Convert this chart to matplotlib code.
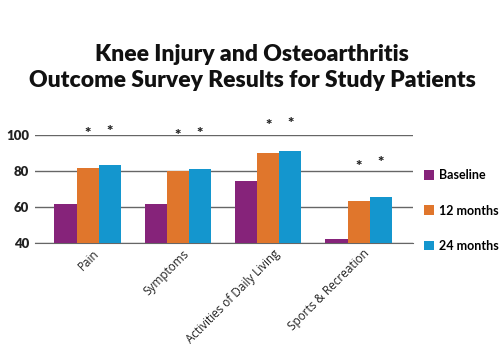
import matplotlib
matplotlib.use("Agg")
import matplotlib.pyplot as plt
import numpy as np

categories = ["Pain", "Symptoms", "Activities of Daily Living", "Sports & Recreation"]
series_names = ["Baseline", "12 months", "24 months"]
baseline = [61.5, 61.5, 74.4, 42.4]
months12 = [81.4, 80.0, 90.0, 63.4]
months24 = [83.3, 80.9, 91.2, 65.4]
star_12 = [101.0, 99.5, 105.5, 82.5]
star_24 = [102.0, 101.0, 106.3, 84.7]
colors = ["#86237A", "#E0762C", "#1496CE"]
yticks = [40, 60, 80, 100]

plt.rcParams['font.family'] = ['Lato', 'DejaVu Sans']

fig = plt.figure(figsize=(5.04, 3.6), dpi=100)
ax = fig.add_axes([0.069, 0.325, 0.75, 0.30])

x = np.arange(len(categories))
w = 0.245
for i, (vals, c, name) in enumerate(zip([baseline, months12, months24], colors, series_names)):
    ax.bar(x + (i - 1) * w, vals, w, color=c, label=name, zorder=3, bottom=0)

for xi, s12, s24 in zip(x, star_12, star_24):
    ax.text(xi, s12, "*", ha="center", va="center", fontsize=11, fontweight="heavy", color="#222222", zorder=4)
    ax.text(xi + w, s24, "*", ha="center", va="center", fontsize=11, fontweight="heavy", color="#222222", zorder=4)

ax.set_ylim(40, 100)
ax.set_xlim(-0.585, 3.6)
ax.set_yticks(yticks)
ax.set_yticklabels([str(t) for t in yticks], fontweight="heavy", fontsize=9.5, color="#222222")
ax.yaxis.grid(True, color="#666666", linewidth=1.0, zorder=0)
ax.tick_params(axis="y", length=0, pad=4)
ax.tick_params(axis="x", length=0, pad=3)
for s in ["top", "right", "left"]:
    ax.spines[s].set_visible(False)
ax.spines["bottom"].set_color("#666666")
ax.set_xticks(x + 0.05)
ax.set_xticklabels(categories, rotation=45, ha="right", rotation_mode="anchor", fontsize=8.5,
                   color="#222222", family=["Open Sans", "DejaVu Sans"])

ax.legend(loc="center left", bbox_to_anchor=(1.0, 0.30), frameon=False,
          handlelength=0.8, handleheight=0.8, labelspacing=1.85, handletextpad=0.4,
          prop={"weight": "bold", "size": 9})

fig.text(0.5, 0.813, "Knee Injury and Osteoarthritis\nOutcome Survey Results for Study Patients",
         ha="center", va="center", fontsize=16.5, fontweight="heavy", color="#111111", linespacing=1.3)

fig.savefig("out.png", dpi=100)
